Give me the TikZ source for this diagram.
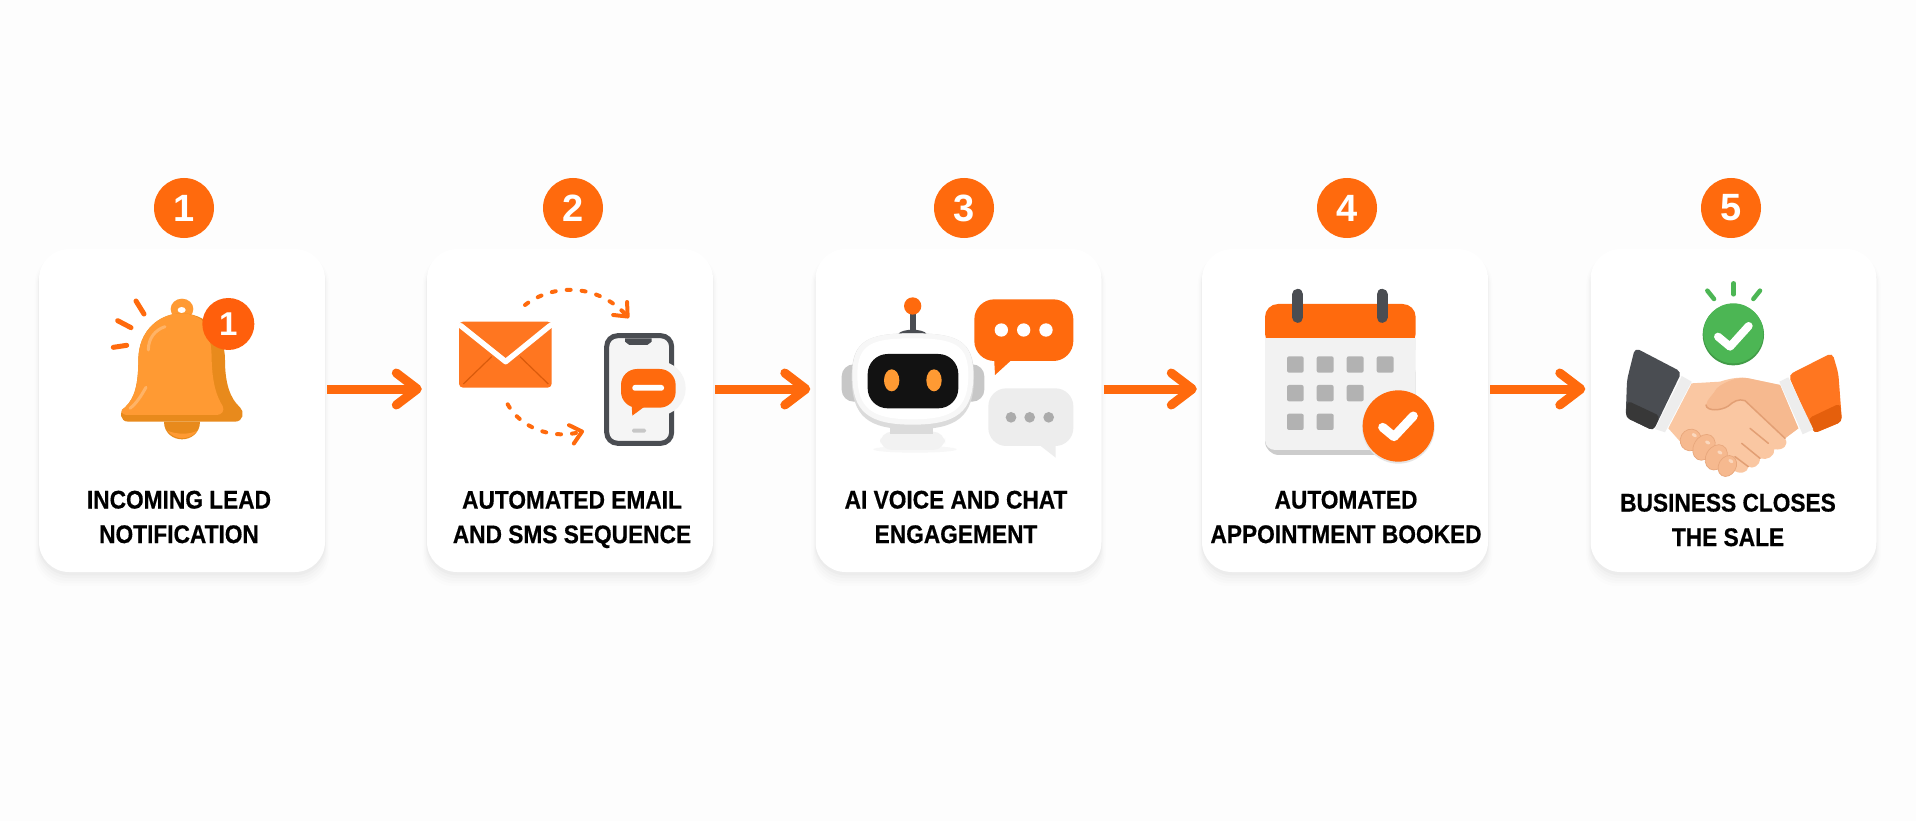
\documentclass[tikz,border=0pt]{standalone}
\usepackage{fontspec}
\setmainfont{Liberation Sans}[FakeStretch=0.89,BoldFeatures={FakeBold=0.5}]
\newfontfamily\digitfont{Liberation Sans}
\usetikzlibrary{arrows.meta,shadows}
\definecolor{flame}{HTML}{FF6A0D}
\definecolor{amber}{HTML}{FF9A33}
\definecolor{amberdark}{HTML}{E88A1C}
\definecolor{slate}{HTML}{4A4D52}
\definecolor{leaf}{HTML}{4CB654}
\definecolor{skin}{HTML}{FAC7A2}
\definecolor{skindark}{HTML}{F6B98F}
\definecolor{skinline}{HTML}{E29F74}
\tikzset{>={Straight Barb[length=21pt,width=32pt,round]},
  softshadow/.style={general shadow={fill=black,opacity=.008,shadow yshift=-9pt,shadow scale=1.03},
    general shadow={fill=black,opacity=.01,shadow yshift=-8pt,shadow scale=1.02},
    general shadow={fill=black,opacity=.012,shadow yshift=-7pt,shadow scale=1.012},
    general shadow={fill=black,opacity=.015,shadow yshift=-5pt,shadow scale=1.006},
    general shadow={fill=black,opacity=.02,shadow yshift=-3pt,shadow scale=1.002}},
  card/.style={rectangle,rounded corners=30pt,fill=white,inner sep=0pt,minimum width=286pt,minimum height=323pt,softshadow},
  badge/.style={circle,fill=flame,text=white,inner sep=0pt,minimum size=60pt,font=\digitfont\bfseries\fontsize{38}{38}\selectfont},
  cardtext/.style={align=center,inner sep=0pt,text=black,font=\bfseries\fontsize{25.5}{34.5}\selectfont},
  zoomed/.style={x=.33333pt,y=-.33333pt},
  dotted arc/.style={draw=flame,line width=4pt,line cap=round,dash pattern=on 4pt off 11pt,
    -{Straight Barb[length=11pt,width=19pt,round]}},
  ray/.style={line width=#1,line cap=round}}
\begin{document}
\begin{tikzpicture}[x=1pt,y=-1pt]
\fill[white!99.3!black] (0,0) rectangle (1916,821);
\useasboundingbox (0,0) rectangle (1916,821);
\begin{scope}[every node/.style={card}]
\node (card1) at (182,410.5) {};
\node (card2) at (570,410.5) {};
\node (card3) at (958.5,410.5) {};
\node (card4) at (1345,410.5) {};
\node (card5) at (1733.5,410.5) {};
\end{scope}
\begin{scope}[every node/.style={badge}]
\node (num1) at (184,208) {1};
\node (num2) at (573,208) {2};
\node (num3) at (964,208) {3};
\node (num4) at (1347,208) {4};
\node (num5) at (1731,208) {5};
\end{scope}
\begin{scope}[every node/.style={cardtext}]
\node (text1) at (179,517) {INCOMING LEAD\\NOTIFICATION};
\node (text2) at (572,519.5) {AUTOMATED EMAIL\\AND SMS SEQUENCE};
\node (text3) at (956,517) {AI VOICE AND CHAT\\ENGAGEMENT};
\node (text4) at (1346,517) {AUTOMATED\\APPOINTMENT BOOKED};
\node (text5) at (1728,520) {BUSINESS CLOSES\\THE SALE};
\end{scope}
\begin{scope}[every edge/.style={draw=flame,line width=9pt,shorten <=2pt,shorten >=5pt}]
    \path [->] ([yshift=21.5pt]card1.east) edge ([yshift=21.5pt]card2.west);
    \path [->] ([yshift=21.5pt]card2.east) edge ([yshift=21.5pt]card3.west);
    \path [->] ([yshift=21.5pt]card3.east) edge ([yshift=21.5pt]card4.west);
    \path [->] ([yshift=21.5pt]card4.east) edge ([yshift=21.5pt]card5.west);
\end{scope}
% bell
\begin{scope}[shift={(20,160)},zoomed]
\fill[amber] (486,447) ellipse (34 and 31);
\fill[white] (485,450) ellipse (12 and 9);
\fill[amberdark] (432,785) .. controls (432,820) and (460,838) .. (486,838) .. controls (512,838) and (540,820) .. (540,785) -- cycle;
\fill[amber] (442,812) .. controls (465,842) and (510,842) .. (532,812) .. controls (510,824) and (470,824) .. (442,812) -- cycle;
\fill[amberdark] (325,785) .. controls (300,785) and (296,755) .. (315,742) .. controls (345,715) and (355,670) .. (355,600)
  .. controls (355,510) and (420,460) .. (485,460) .. controls (550,460) and (615,510) .. (615,600)
  .. controls (615,670) and (630,715) .. (660,742) .. controls (675,755) and (670,785) .. (645,785) -- cycle;
\fill[amber] (325,765) .. controls (300,765) and (298,750) .. (315,742) .. controls (345,715) and (355,670) .. (355,600)
  .. controls (355,510) and (420,460) .. (485,460) .. controls (510,460) and (530,468) .. (545,480)
  .. controls (570,520) and (575,560) .. (575,600) .. controls (577,670) and (590,710) .. (608,738)
  .. controls (615,752) and (605,765) .. (590,765) -- cycle;
\draw[amber!75!white,ray=3pt] (385,570) .. controls (385,535) and (405,510) .. (435,500);
\draw[amber!75!white,ray=3pt] (330,745) .. controls (350,730) and (365,705) .. (378,682);
\draw[flame,ray=5pt] (348,423) -- (372,462);
\draw[flame,ray=5pt] (293,482) -- (333,503);
\draw[flame,ray=5pt] (280,562) -- (320,556);
\node[badge,minimum size=52pt,fill=flame!90!red,font=\digitfont\bfseries\fontsize{33}{33}\selectfont] (bellnum) at (625,492) {1};
\end{scope}
% envelope and phone
\begin{scope}[shift={(410,160)},zoomed]
\coordinate (mailtop) at (345,435);
\coordinate (phonetop) at (657,474);
\coordinate (mailbot) at (293,733);
\coordinate (phonebot) at (522,813);
\fill[flame!92!white,rounded corners=4pt] (147,485) rectangle (425,683);
\draw[flame!85!black,line width=1.2pt] (160,672) -- (245,590) (330,590) -- (415,672);
\draw[white,line width=5.5pt,line cap=round,line join=round] (152,497) -- (287,605) -- (420,497);
\draw[dotted arc] (mailtop) .. controls (430,370) and (560,370) .. (phonetop);
\draw[dotted arc] (mailbot) .. controls (330,800) and (420,840) .. (phonebot);
\draw[slate,fill=black!4,line width=5pt,rounded corners=11pt] (590,527) rectangle (785,850);
\fill[slate] (645,535) -- (725,535) -- (725,545) -- (712,555) -- (658,555) -- (645,545) -- cycle;
\fill[black!22,rounded corners=1.5pt] (666,806) rectangle (708,818);
\fill[black!4] (745,685) circle (82);
\fill[flame,rounded corners=16pt] (633,627) rectangle (797,743);
\fill[flame] (665,735) -- (667,767) -- (710,735) -- cycle;
\fill[white,rounded corners=2.5pt] (667,675) rectangle (762,692);
\end{scope}
% robot and chat bubbles
\begin{scope}[shift={(800,160)},zoomed]
\fill[black!3] (345,868) ellipse (125 and 10);
\fill[black!5,rounded corners=12pt] (240,815) rectangle (435,870);
\fill[black!14] (270,800) rectangle (400,822);
\fill[black!22,rounded corners=12pt] (125,613) rectangle (200,725);
\fill[black!22,rounded corners=12pt] (478,613) rectangle (553,725);
\draw[slate,line width=6pt] (338,460) -- (338,510);
\fill[slate] (295,522) .. controls (305,505) and (370,505) .. (380,522) -- cycle;
\fill[flame] (338,438) circle (26);
\fill[black!14] (338,520) .. controls (470,520) and (522,540) .. (522,650) .. controls (522,772) and (470,808) .. (338,808)
  .. controls (205,808) and (155,772) .. (155,650) .. controls (155,540) and (205,520) .. (338,520) -- cycle;
\fill[black!3] (338,520) .. controls (470,520) and (520,540) .. (520,645) .. controls (520,755) and (470,794) .. (338,794)
  .. controls (205,794) and (157,755) .. (157,645) .. controls (157,540) and (205,520) .. (338,520) -- cycle;
\fill[white] (338,535) .. controls (460,535) and (505,552) .. (505,645) .. controls (505,745) and (460,778) .. (338,778)
  .. controls (215,778) and (172,745) .. (172,645) .. controls (172,552) and (215,535) .. (338,535) -- cycle;
\fill[black!93,rounded corners=20pt] (203,582) rectangle (475,745);
\fill[amber] (275,661) ellipse (23 and 33);
\fill[amber] (402,661) ellipse (23 and 33);
\fill[flame,rounded corners=20pt] (523,418) rectangle (820,603);
\fill[flame] (582,590) -- (585,645) -- (640,595) -- cycle;
\fill[white] (604,510) circle (20) (671,510) circle (20) (738,510) circle (20);
\fill[black!7,rounded corners=18pt] (565,685) rectangle (820,858);
\fill[black!7] (712,850) -- (767,893) -- (767,850) -- cycle;
\fill[black!33] (633,772) circle (16) (689,772) circle (16) (746,772) circle (16);
\end{scope}
% calendar
\begin{scope}[shift={(1190,160)},zoomed]
\fill[black!20,rounded corners=14pt] (225,600) rectangle (677,885);
\fill[black!5,rounded corners=10pt] (225,520) rectangle (677,870);
\fill[flame,rounded corners=13pt] (225,432) rectangle (677,560);
\fill[black!5] (225,533) rectangle (677,570);
\draw[slate,line width=11pt,line cap=round] (323,403) -- (323,472);
\draw[slate,line width=11pt,line cap=round] (576,403) -- (576,472);
\begin{scope}[every path/.style={fill=black!30,rounded corners=2pt}]
\path (291,589) rectangle (341,638);
\path (380,589) rectangle (431,638);
\path (470,589) rectangle (521,638);
\path (560,589) rectangle (611,638);
\path (291,675) rectangle (341,724);
\path (380,675) rectangle (431,724);
\path (470,675) rectangle (521,724);
\path (291,761) rectangle (341,810);
\path (380,761) rectangle (431,810);
\end{scope}
\fill[black!10] (625,802) circle (109);
\fill[flame] (625,798) circle (107);
\draw[white,ray=9pt,line join=round] (578,802) -- (612,830) -- (670,768);
\end{scope}
% handshake
\begin{scope}[shift={(1500,160)},zoomed]
\draw[leaf,ray=4.5pt] (622,392) -- (642,417);
\draw[leaf,ray=4.5pt] (701,370) -- (701,403);
\draw[leaf,ray=4.5pt] (780,392) -- (760,417);
\fill[leaf!85!black] (700,524) circle (92);
\fill[leaf] (700,520) circle (90);
\draw[white,ray=8pt,line join=round] (654,530) -- (690,560) -- (746,498);
% sleeves
\fill[slate,rounded corners=5pt] (405,563) -- (545,636) -- (460,812) -- (377,772) -- (381,660) -- cycle;
\fill[black!78,rounded corners=4pt] (382,722) -- (480,768) -- (460,812) -- (377,772) -- cycle;
\fill[white!93!black] (545,648) -- (575,665) -- (495,817) -- (465,807) -- cycle;
\fill[flame!92!white,rounded corners=5pt] (997,578) -- (865,645) -- (942,820) -- (1026,785) -- (1015,640) -- cycle;
\fill[flame!90!black,rounded corners=4pt] (1020,730) -- (1026,785) -- (942,820) -- (925,775) -- cycle;
\fill[white!93!black] (838,665) -- (865,652) -- (940,808) -- (908,823) -- cycle;
% hands
\fill[skin] (575,670) -- (660,665) .. controls (690,655) and (720,650) .. (745,655) -- (840,675) -- (895,805) -- (855,835)
  .. controls (868,855) and (850,872) .. (822,868) .. controls (825,890) and (800,902) .. (780,895)
  .. controls (780,918) and (758,928) .. (745,920) .. controls (745,938) and (718,945) .. (700,930) -- (545,850) -- (505,805) -- cycle;
\fill[skindark] (618,735) .. controls (622,715) and (640,705) .. (650,685) .. controls (680,660) and (720,650) .. (745,655)
  -- (840,675) -- (895,805) -- (855,835) -- (735,722) .. controls (715,715) and (700,725) .. (685,738)
  .. controls (665,752) and (620,755) .. (618,735) -- cycle;
\draw[skinline,ray=1.5pt] (618,735) .. controls (620,755) and (665,752) .. (685,738) .. controls (700,725) and (715,715) .. (735,722) -- (855,835);
\draw[skinline,ray=1.5pt] (750,805) -- (805,850);
\draw[skinline,ray=1.5pt] (725,850) -- (780,895);
\draw[skinline,ray=1.5pt] (705,890) -- (745,920);
\foreach \fingerx/\fingery/\fingerw/\fingerh in {572/840/31/33,612/862/31/41,649/892/31/40,682/918/26/33} {
  \fill[skindark,draw=skinline!70!skindark,line width=.7pt,rotate around={-30:(\fingerx,\fingery)}] (\fingerx,\fingery) ellipse [x radius=\fingerw,y radius=\fingerh];
  \fill[skin!70!white,rotate around={-30:(\fingerx,\fingery)}] (\fingerx+2,\fingery-18) ellipse [x radius=8,y radius=5];
}
\end{scope}
\end{tikzpicture}
\end{document}
